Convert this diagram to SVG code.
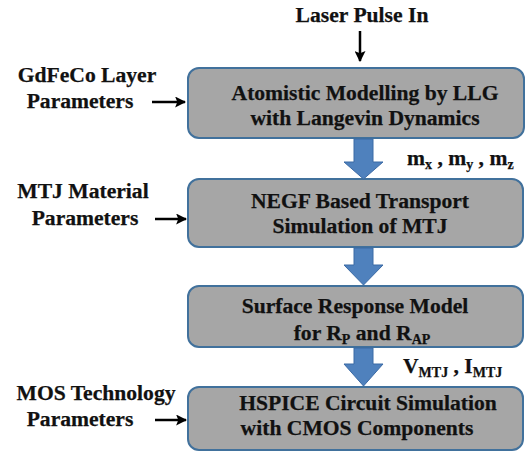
<svg xmlns="http://www.w3.org/2000/svg" width="526" height="454" viewBox="0 0 526 454">
<defs>
<style>
text{font-family:'Liberation Serif',serif;font-weight:700;font-size:21.6px;fill:#111;stroke:#111;stroke-width:0.25}
.c{text-anchor:middle}
.box{fill:#A6A6A6;stroke:#41719C;stroke-width:2}
.blk{stroke:#000;stroke-width:2.5;fill:none}
.big{fill:#4F81BD;stroke:#3B6AA5;stroke-width:1}
.sub{font-size:14px}
</style>
<marker id="ah" viewBox="0 0 10 10" refX="9" refY="5" markerWidth="4.4" markerHeight="4.4" orient="auto" markerUnits="strokeWidth">
<path d="M0,0 L10,5 L0,10 L2,5 Z" fill="#000"/>
</marker>
</defs>
<rect width="526" height="454" fill="#fff"/>
<g font-family="Liberation Serif">
<g id="laser">
<text class="c" x="362" y="22">Laser Pulse In</text>
</g>
<g id="gdfeco">
<text class="c" x="87" y="82">GdFeCo Layer</text>
<text class="c" x="80" y="108">Parameters</text>
</g>
<g id="mtjmat">
<text class="c" x="83" y="198">MTJ Material</text>
<text class="c" x="85" y="225">Parameters</text>
</g>
<g id="mostech">
<text class="c" x="96" y="400">MOS Technology</text>
<text class="c" x="80" y="426">Parameters</text>
</g>
<g id="box1">
<rect class="box" x="188" y="68" width="336" height="70" rx="11"/>
<text class="c" x="365" y="100">Atomistic Modelling by LLG</text>
<text class="c" x="365" y="125">with Langevin Dynamics</text>
</g>
<g id="box2">
<rect class="box" x="188" y="179" width="335" height="68" rx="11"/>
<text class="c" x="360" y="208">NEGF Based Transport</text>
<text class="c" x="360" y="233">Simulation of MTJ</text>
</g>
<g id="box3">
<rect class="box" x="188" y="286" width="335" height="61" rx="11"/>
<text class="c" x="355" y="313">Surface Response Model</text>
<text class="c" x="362" y="340">for R<tspan class="sub" dy="4">P</tspan><tspan dy="-4"> and R</tspan><tspan class="sub" dy="4">AP</tspan></text>
</g>
<g id="box4">
<rect class="box" x="188" y="387" width="335" height="63" rx="11"/>
<text class="c" x="368" y="410">HSPICE Circuit Simulation</text>
<text class="c" x="357" y="435">with CMOS Components</text>
</g>
<g id="connectors">
<line class="blk" x1="360" y1="31" x2="360" y2="61" marker-end="url(#ah)"/>
<line class="blk" x1="152" y1="102" x2="185" y2="102" marker-end="url(#ah)"/>
<line class="blk" x1="155" y1="219" x2="186" y2="219" marker-end="url(#ah)"/>
<line class="blk" x1="155" y1="420" x2="186" y2="420" marker-end="url(#ah)"/>
<path class="big" d="M354,139 L373,139 L373,162 L383,162 L363.5,179 L344,162 L354,162 Z"/>
<path class="big" d="M354,248 L373,248 L373,265 L383,265 L363.5,285 L344,265 L354,265 Z"/>
<path class="big" d="M354,348 L373,348 L373,364 L383,364 L363.5,386 L344,364 L354,364 Z"/>
<text x="407" y="165">m<tspan class="sub" dy="4">x</tspan><tspan dy="-4"> , m</tspan><tspan class="sub" dy="4">y</tspan><tspan dy="-4"> , m</tspan><tspan class="sub" dy="4">z</tspan></text>
<text x="403" y="373">V<tspan class="sub" dy="4">MTJ</tspan><tspan dy="-4"> , I</tspan><tspan class="sub" dy="4">MTJ</tspan></text>
</g>
</g>
</svg>
